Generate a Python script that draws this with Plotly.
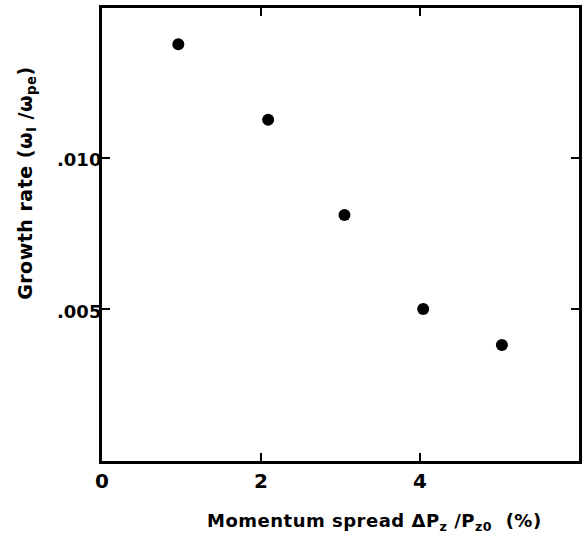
import plotly.graph_objects as go

spread = [0.96, 2.09, 3.05, 4.04, 5.03]
growth = [0.01375, 0.01126, 0.00812, 0.00502, 0.00383]
x_ticks = [0, 2, 4]
x_labels = ["0", "2", "4"]
y_ticks = [0.005, 0.010]
y_labels = [".005", ".010"]

FONT = "DejaVu Sans"

fig = go.Figure()
fig.add_trace(go.Scatter(x=spread, y=growth, mode="markers",
                         marker=dict(color="black", size=12), showlegend=False))

W, H = 587, 541
L, R, T, B = 102, 6, 5, 80
fig.update_layout(
    width=W, height=H, margin=dict(l=L, r=R, t=T, b=B),
    paper_bgcolor="white", plot_bgcolor="white",
    font=dict(family=FONT, color="black", size=20),
    xaxis=dict(range=[0, 6], tickvals=x_ticks, ticktext=x_labels,
               showline=True, mirror="ticks", linecolor="black", linewidth=2.5,
               ticks="inside", ticklen=8, tickwidth=2, tickcolor="black",
               showgrid=False, zeroline=False,
               tickfont=dict(size=20, weight="bold"), ticklabelstandoff=0),
    yaxis=dict(range=[0, 0.01495], tickvals=y_ticks, showticklabels=False,
               showline=True, mirror="ticks", linecolor="black", linewidth=2.5,
               ticks="inside", ticklen=8, tickwidth=2, tickcolor="black",
               showgrid=False, zeroline=False),
)

# y tick labels placed close to the axis line
for v, t in zip(y_ticks, y_labels):
    fig.add_annotation(text=t, xref="paper", yref="y", x=0, y=v, xanchor="right",
                       yanchor="middle", xshift=1, yshift=-2, showarrow=False,
                       font=dict(size=18, family=FONT, weight="bold"))

SP = "<span style='letter-spacing:0.5px'>{}</span>"
fig.add_annotation(text=SP.format("Growth rate (ω<sub>I</sub> /ω<sub>pe</sub>)"),
                   xref="paper", yref="paper",
                   x=0, y=(461 - 181) / 456, xshift=-75, textangle=-90, showarrow=False,
                   font=dict(size=19, family=FONT, weight="bold"), xanchor="center", yanchor="middle")
fig.add_annotation(text=SP.format("Momentum spread ΔP<sub>z</sub> /P<sub>z0</sub>  (%)"),
                   xref="paper", yref="paper",
                   x=(376 - 102) / 479, y=0, yshift=-61, showarrow=False,
                   font=dict(size=18, family=FONT, weight="bold"), xanchor="center", yanchor="middle")

fig.write_html("out.html")
